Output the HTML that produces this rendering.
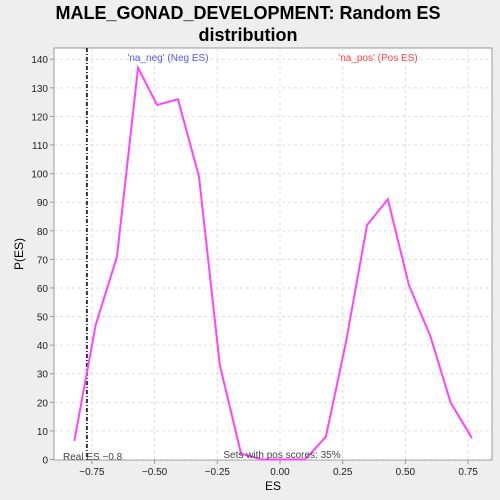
<!DOCTYPE html>
<html><head><meta charset="utf-8"><style>
body{margin:0;background:#eeeeee;}
svg{display:block;font-family:"Liberation Sans","DejaVu Sans",sans-serif;}
</style></head><body>
<svg id="chart" width="500" height="500">
<rect x="0" y="0" width="500" height="500" fill="#eeeeee"/>
<text x="248" y="19" text-anchor="middle" font-size="18" font-weight="bold" fill="#000">MALE_GONAD_DEVELOPMENT: Random ES</text>
<text x="248" y="41" text-anchor="middle" font-size="18" font-weight="bold" fill="#000">distribution</text>
<rect x="54" y="48" width="438" height="412" fill="#fff" stroke="#999"/>
<g id="grid"></g><g id="axes"></g><g id="series"></g>
<text x="168" y="61" text-anchor="middle" font-size="10" fill="#5555ff">'na_neg' (Neg ES)</text>
<text x="378" y="61" text-anchor="middle" font-size="10" fill="#ff4444">'na_pos' (Pos ES)</text>
<text x="63" y="460" font-size="10" fill="#444">Real ES −0.8</text>
<text x="282" y="458" text-anchor="middle" font-size="10" fill="#444">Sets with pos scores: 35%</text>
<text x="273" y="490" text-anchor="middle" font-size="12" fill="#000">ES</text>
<text x="23" y="254" text-anchor="middle" font-size="12" fill="#000" transform="rotate(-90 23 254)">P(ES)</text>
</svg>
<script>
const esValues=[-0.82,-0.735,-0.65,-0.566,-0.49,-0.407,-0.323,-0.24,-0.155,-0.07,0.015,0.1,0.183,0.263,0.347,0.43,0.514,0.6,0.68,0.765];
const densityValues=[6.5,47,71,137,124,126,99,33,2,0,0,0,8,41,82,91,61,43,20,7.5];
const xTicks=[-0.75,-0.5,-0.25,0,0.25,0.5,0.75];
const xTickLabels=["−0.75","−0.50","−0.25","0.00","0.25","0.50","0.75"];
const yTicks=[0,10,20,30,40,50,60,70,80,90,100,110,120,130,140];
const realES=-0.77;
const NS="http://www.w3.org/2000/svg";
function X(v){return 280+v*250.8;}
function Y(v){return 459.5-v*2.859;}
function mk(t,a,p){const e=document.createElementNS(NS,t);for(const k in a)e.setAttribute(k,a[k]);p.appendChild(e);return e;}
const grid=document.getElementById('grid'),axes=document.getElementById('axes'),series=document.getElementById('series');
xTicks.forEach((t,i)=>{
 const g=mk('line',{x1:X(t),x2:X(t),y1:48,y2:460,stroke:'#ddd','stroke-dasharray':'3,3'},grid);
 
 
 const tk=mk('line',{x1:X(t),x2:X(t),y1:460,y2:464,stroke:'#999'},axes);
 
 
 const l=mk('text',{x:X(t),y:475,'text-anchor':'middle','font-size':10,fill:'#222'},axes);
 l.textContent=xTickLabels[i];
 
 
});
yTicks.forEach(t=>{
 const g=mk('line',{x1:54,x2:492,y1:Y(t),y2:Y(t),stroke:'#ddd','stroke-dasharray':'3,3'},grid);
 
 
 const tk=mk('line',{x1:50,x2:54,y1:Y(t),y2:Y(t),stroke:'#999'},axes);
 
 
 const l=mk('text',{x:48,y:Y(t)+4,'text-anchor':'end','font-size':10,fill:'#222'},axes);
 l.textContent=t;
 
 
});
const rl=mk('line',{x1:X(realES),x2:X(realES),y1:48,y2:460,stroke:'#333','stroke-width':2,'stroke-dasharray':'4,2,1,2'},series);


const pl=mk('polyline',{points:esValues.map((x,i)=>X(x)+','+Y(densityValues[i])).join(' '),fill:'none',stroke:'#ff44ff','stroke-width':2},series);


</script>
</body></html>
